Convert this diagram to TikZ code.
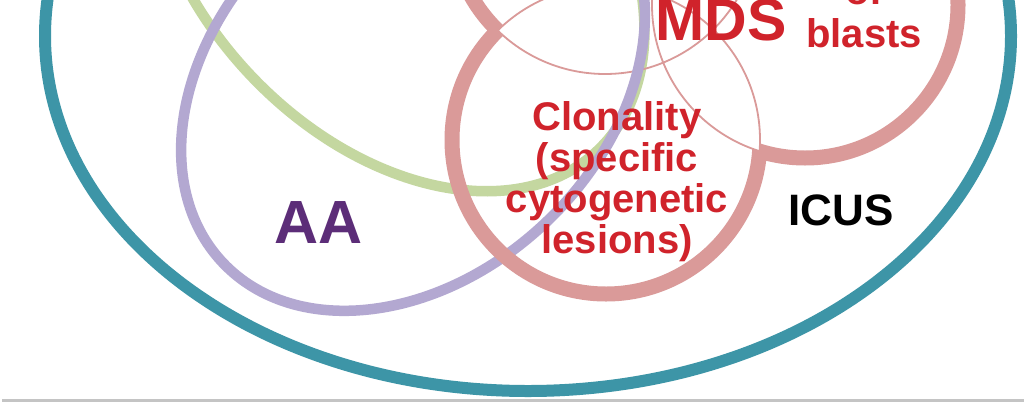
\documentclass[tikz,border=0pt]{standalone}
\usepackage{fontspec}
\setmainfont{Liberation Sans}
\usepackage{tikz}
\usetikzlibrary{positioning}
\definecolor{vteal}{HTML}{3D95A7}
\definecolor{vgreen}{HTML}{C4D7A0}
\definecolor{vpurple}{HTML}{B3A8D1}
\definecolor{vpink}{HTML}{DA9A99}
\definecolor{vred}{HTML}{D0232B}
\definecolor{vplum}{HTML}{5C2D78}
\definecolor{vgrey}{HTML}{C4C4C4}

\begin{document}
\begin{tikzpicture}[x=1pt, y=-1pt,
  lbl/.style={inner sep=0pt, text=vred},
  thinring/.style={vpink, line width=1.8pt},
  thickring/.style={vpink, line width=15pt}]
\useasboundingbox (0,0) rectangle (1024,402);
\clip (0,0) rectangle (1024,402);
\fill[white] (0,0) rectangle (1024,402);
\coordinate (cA) at (606,140);
\coordinate (cB) at (805,5);
\coordinate (cC) at (605,-80);
\draw[vteal, line width=12pt] (528,36) ellipse (483pt and 355pt);
\draw[vgreen, line width=10.5pt, rotate around={-46.5:(396,-62)}] (396,-62) ellipse (293pt and 200pt);
\draw[thinring] (cA) circle (154pt) (cB) circle (153pt) (cC) circle (154pt);
\draw[vpurple, line width=10.5pt, rotate around={43.5:(413,82.5)}] (413,82.5) ellipse (262pt and 193pt);
\begin{scope}[even odd rule]
  \clip (-600,-600) rectangle (1600,1000) (cB) circle (153pt);
  \clip (-600,-600) rectangle (1600,1000) (cC) circle (154pt);
  \draw[thickring] (cA) circle (154pt);
\end{scope}
\begin{scope}[even odd rule]
  \clip (-600,-600) rectangle (1600,1000) (cA) circle (154pt);
  \clip (-600,-600) rectangle (1600,1000) (cC) circle (154pt);
  \draw[thickring] (cB) circle (153pt);
\end{scope}
\begin{scope}[even odd rule]
  \clip (-600,-600) rectangle (1600,1000) (cA) circle (154pt);
  \clip (-600,-600) rectangle (1600,1000) (cB) circle (153pt);
  \draw[thickring] (cC) circle (154pt);
\end{scope}
\fill[vgrey] (2,398.5) rectangle (1024,402);
\node[lbl, font=\fontsize{59}{59}\selectfont\bfseries, anchor=base] (mds) at (721,40) {MDS};
\node[lbl, align=center, font=\fontsize{40}{43}\selectfont\bfseries, anchor=base] (blasts) at (864,47) {of\\blasts};
\node[lbl, align=center, font=\fontsize{40}{41}\selectfont\bfseries, anchor=north] (clon) at (617,101) {Clonality\\(specific\\cytogenetic\\lesions)};
\node[lbl, text=vplum, font=\fontsize{61}{61}\selectfont\bfseries, anchor=base] (aa) at (319,243) {AA};
\node[lbl, text=black, font=\fontsize{44}{44}\selectfont\bfseries, anchor=base] (icus) at (841,225) {ICUS};
\end{tikzpicture}
\end{document}
